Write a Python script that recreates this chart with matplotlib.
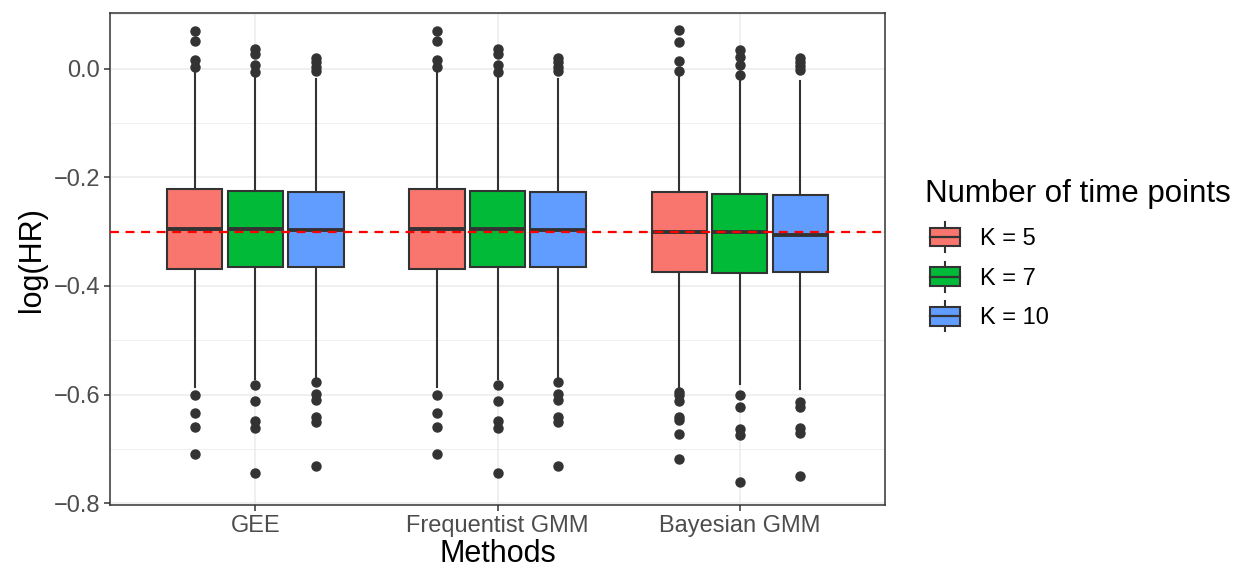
import numpy as np
import matplotlib.pyplot as plt
from matplotlib.legend_handler import HandlerBase
from matplotlib.patches import Rectangle
from matplotlib.lines import Line2D

plt.rcParams['font.family'] = ['Liberation Sans', 'DejaVu Sans']

methods = ["GEE", "Frequentist GMM", "Bayesian GMM"]
k_labels = ["K = 5", "K = 7", "K = 10"]
colors = ["#F8766D", "#00BA38", "#619CFF"]

# box summaries [method][K]
q1 = [[-0.369, -0.366, -0.366],
      [-0.369, -0.366, -0.366],
      [-0.375, -0.376, -0.375]]
med = [[-0.296, -0.2955, -0.297],
       [-0.296, -0.2955, -0.297],
       [-0.301, -0.3016, -0.306]]
q3 = [[-0.2225, -0.2256, -0.2274],
      [-0.2225, -0.2256, -0.2274],
      [-0.2274, -0.231, -0.2323]]
whislo = [[-0.586, -0.571, -0.568],
          [-0.586, -0.571, -0.568],
          [-0.589, -0.580, -0.590]]
whishi = [[-0.007, -0.016, -0.019],
          [-0.007, -0.016, -0.019],
          [-0.013, -0.019, -0.023]]
fliers = [
    [[0.070, 0.0515, 0.0166, 0.0024, -0.600, -0.634, -0.659, -0.709],
     [0.036, 0.027, 0.0074, -0.0068, -0.583, -0.611, -0.649, -0.661, -0.745],
     [0.019, 0.0116, 0.0024, -0.0037, -0.576, -0.598, -0.609, -0.641, -0.650, -0.732]],
    [[0.070, 0.0515, 0.0166, 0.0024, -0.600, -0.634, -0.659, -0.709],
     [0.036, 0.027, 0.0074, -0.0068, -0.583, -0.611, -0.649, -0.661, -0.745],
     [0.019, 0.0116, 0.0024, -0.0037, -0.576, -0.598, -0.609, -0.641, -0.650, -0.732]],
    [[0.0717, 0.0497, 0.0134, -0.0037, -0.595, -0.601, -0.611, -0.641, -0.647, -0.672, -0.718],
     [0.035, 0.0208, 0.0067, -0.0116, -0.600, -0.622, -0.664, -0.675, -0.761],
     [0.019, 0.0116, 0.0042, -0.0025, -0.614, -0.623, -0.661, -0.671, -0.750]],
]
true_value = -0.3

edge = "#333333"
fig = plt.figure(figsize=(12.42, 5.71), dpi=100)
ax = fig.add_axes([0.0886, 0.1156, 0.6240, 0.8614])

# grid
for y in np.arange(-0.8, 0.11, 0.1):
    lw = 1.1 if abs(round(y / 0.2) * 0.2 - y) < 1e-6 else 0.55
    ax.axhline(y, color="#EBEBEB", lw=lw, zorder=0)
for i in range(len(methods)):
    ax.axvline(i + 1, color="#EBEBEB", lw=1.1, zorder=0)

width = 0.228
offsets = [-0.25, 0.0, 0.25]
for i in range(len(methods)):
    for j in range(len(k_labels)):
        stats = [dict(med=med[i][j], q1=q1[i][j], q3=q3[i][j],
                      whislo=whislo[i][j], whishi=whishi[i][j],
                      fliers=fliers[i][j])]
        ax.bxp(stats, positions=[i + 1 + offsets[j]], widths=width,
               patch_artist=True, showcaps=False,
               boxprops=dict(facecolor=colors[j], edgecolor=edge, linewidth=1.5),
               medianprops=dict(color=edge, linewidth=2.8),
               whiskerprops=dict(color=edge, linewidth=1.5),
               flierprops=dict(marker="o", markerfacecolor=edge, markeredgecolor=edge,
                               markersize=6.5, linestyle="none"),
               manage_ticks=False, zorder=2)

ax.axhline(true_value, color="#FF0000", lw=1.6, ls=(0, (4, 3)), zorder=3)

ax.set_xlim(0.4, 3.6)
ax.set_ylim(-0.803, 0.102)
ax.set_xticks(range(1, len(methods) + 1))
ax.set_xticklabels(methods)
ax.set_yticks([-0.8, -0.6, -0.4, -0.2, 0.0])
ax.set_yticklabels(["\u22120.8", "\u22120.6", "\u22120.4", "\u22120.2", "0.0"])
ax.tick_params(colors="#333333", labelcolor="#4D4D4D", labelsize=17, length=4, width=1.1, pad=3)
for s in ax.spines.values():
    s.set_color("#333333")
    s.set_linewidth(1.1)
ax.set_xlabel("Methods", fontsize=22, labelpad=2)
ax.set_ylabel("log(HR)", fontsize=22, labelpad=5)


class BoxKey(HandlerBase):
    def create_artists(self, legend, orig_handle, xdescent, ydescent, width, height, fontsize, trans):
        cx = width / 2 - xdescent
        h = height
        w = width
        y0 = -ydescent
        rect = Rectangle((cx - w / 2, y0), w, h,
                         facecolor=orig_handle.get_facecolor(), edgecolor=edge, lw=1.5,
                         transform=trans)
        m = Line2D([cx - w / 2, cx + w / 2], [y0 + h / 2] * 2, color=edge, lw=1.6, transform=trans)
        t = Line2D([cx, cx], [y0 + h, y0 + h * 1.3], color=edge, lw=1.5, transform=trans)
        b = Line2D([cx, cx], [y0 - h * 0.3, y0], color=edge, lw=1.5, transform=trans)
        return [t, b, rect, m]


fig.text(0.745, 1 - 202 / 571, "Number of time points", fontsize=22.5,
         ha="left", va="baseline")
handles = [Rectangle((0, 0), 1, 1, facecolor=c) for c in colors]
leg = fig.legend(handles, k_labels, handler_map={Rectangle: BoxKey()},
                 loc="center left", bbox_to_anchor=(0.7488, 1 - 278.5 / 571),
                 frameon=False, fontsize=17, handlelength=1.25, handleheight=0.85,
                 labelspacing=0.72, handletextpad=0.85, borderpad=0, borderaxespad=0)

fig.savefig("out.png", dpi=100)
